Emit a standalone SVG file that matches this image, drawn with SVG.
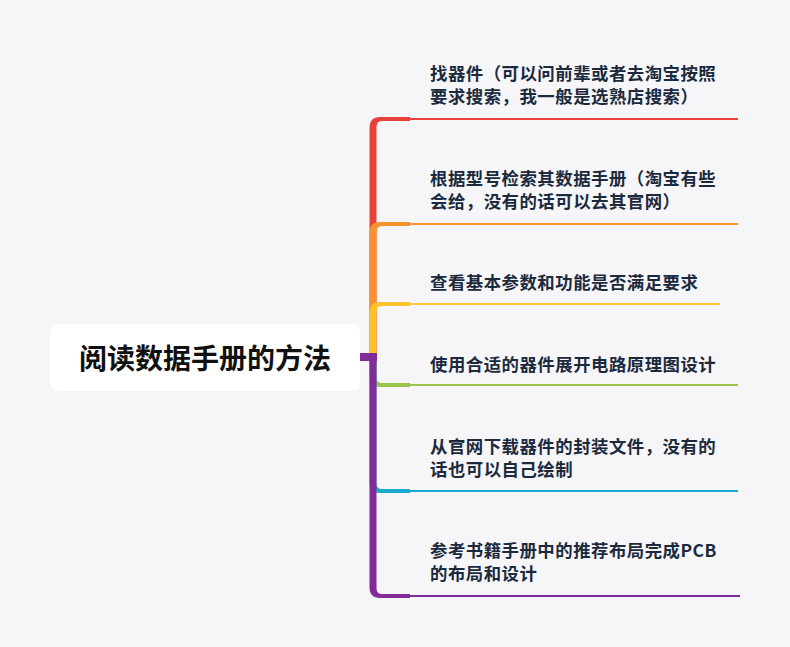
<svg xmlns="http://www.w3.org/2000/svg" width="790" height="647" viewBox="0 0 790 647">
<style>
.t{font-family:"Noto Sans CJK SC","Noto Sans",sans-serif;font-size:17.4px;font-weight:700;fill:#1c2a3e;letter-spacing:0.5px;dominant-baseline:central}
.root{font-family:"Noto Sans CJK SC","Noto Sans",sans-serif;font-size:28px;font-weight:700;fill:#111111;text-anchor:middle;dominant-baseline:central}
.ln{fill:none;stroke-width:2}
</style>
<rect x="0" y="0" width="790" height="647" fill="#f6f6f9"/>
<g id="connectors">
  <g id="c1">
    <path d="M369.5 357 V128 Q369.5 117 380 117 H410 V121 H382 Q376.5 121 376.5 127 V357 Z" fill="#e8413a"/>
    <path class="ln" d="M410 119 H738" stroke="#e8413a"/>
  </g>
  <g id="c2">
    <path d="M369.5 357 V233 Q369.5 222 380 222 H410 V226 H382 Q376.5 226 376.5 232 V357 Z" fill="#f8912f"/>
    <path class="ln" d="M410 224 H738" stroke="#f8912f"/>
  </g>
  <g id="c3">
    <path d="M369.5 357 V313 Q369.5 302 380 302 H410 V306 H382 Q376.5 306 376.5 312 V357 Z" fill="#fcc42e"/>
    <path class="ln" d="M410 304 H720" stroke="#fcc42e"/>
  </g>
  <g id="c4">
    <path d="M369.5 355 V376 Q369.5 387 380 387 H410 V383 H382 Q376.5 383 376.5 377 V355 Z" fill="#9bc24a"/>
    <path class="ln" d="M410 385 H738" stroke="#9bc24a"/>
  </g>
  <g id="c5">
    <path d="M369.5 355 V482 Q369.5 493 380 493 H410 V489 H382 Q376.5 489 376.5 483 V355 Z" fill="#1aabcf"/>
    <path class="ln" d="M410 491 H738" stroke="#1aabcf"/>
  </g>
  <g id="c6">
    <path d="M369.5 355 V587 Q369.5 598 380 598 H410 V594 H382 Q376.5 594 376.5 588 V355 Z" fill="#812c99"/>
    <path class="ln" d="M410 596 H740" stroke="#812c99"/>
  </g>
  <rect x="359" y="353" width="18" height="8" fill="#812c99"/>
</g>
<g id="root">
  <rect x="50" y="324" width="310" height="67" rx="8" fill="#ffffff"/>
  <text class="root" x="205" y="357">阅读数据手册的方法</text>
</g>
<g id="n1">
  <text class="t" x="430" y="72">找器件（可以问前辈或者去淘宝按照</text>
  <text class="t" x="430" y="95">要求搜索，我一般是选熟店搜索）</text>
</g>
<g id="n2">
  <text class="t" x="430" y="177.5">根据型号检索其数据手册（淘宝有些</text>
  <text class="t" x="430" y="200.5">会给，没有的话可以去其官网）</text>
</g>
<g id="n3">
  <text class="t" x="430" y="281.5">查看基本参数和功能是否满足要求</text>
</g>
<g id="n4">
  <text class="t" x="430" y="363">使用合适的器件展开电路原理图设计</text>
</g>
<g id="n5">
  <text class="t" x="430" y="445">从官网下载器件的封装文件，没有的</text>
  <text class="t" x="430" y="468">话也可以自己绘制</text>
</g>
<g id="n6">
  <text class="t" x="430" y="549">参考书籍手册中的推荐布局完成PCB</text>
  <text class="t" x="430" y="572">的布局和设计</text>
</g>
</svg>
